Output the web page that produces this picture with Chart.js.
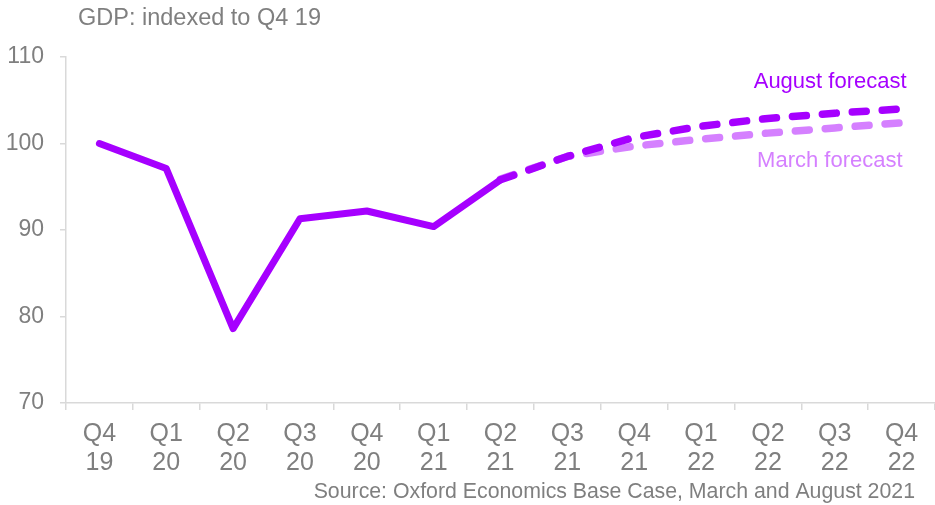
<!DOCTYPE html>
<html>
<head>
<meta charset="utf-8">
<script src="https://cdn.jsdelivr.net/npm/chart.js@4.4.1/dist/chart.umd.min.js"></script>
<style>
    html, body { margin: 0; padding: 0; background: #fff; }
    #wrap { position: relative; width: 935px; height: 505px; }
</style>
</head>
<body>
<div id="wrap"><canvas id="gdpChart"></canvas></div>
<script>
// GDP index, Q4 2019 = 100
const quarters = [
    ['Q4', '19'], ['Q1', '20'], ['Q2', '20'], ['Q3', '20'], ['Q4', '20'],
    ['Q1', '21'], ['Q2', '21'], ['Q3', '21'], ['Q4', '21'],
    ['Q1', '22'], ['Q2', '22'], ['Q3', '22'], ['Q4', '22']
];
const actual = [100.0, 97.1, 78.6, 91.3, 92.2, 90.4, 95.8, null, null, null, null, null, null];
const augustForecast = [null, null, null, null, null, null, 95.8, 98.5, 100.7, 102.0, 102.9, 103.5, 104.0];
const marchForecast = [null, null, null, null, null, null, 95.9, 98.5, 99.7, 100.5, 101.2, 101.8, 102.4];
const yTicks = [70, 80, 90, 100, 110];

const PURPLE = '#a600ff';
const LIGHT_PURPLE = '#d580ff';
const GREY = '#7f7f7f';
const AXIS_GREY = '#d9d9d9';
const FONT = '"Liberation Sans", Arial, sans-serif';

// title, source and series labels drawn on the canvas
const textPlugin = {
    id: 'texts',
    afterDraw(chart) {
        const ctx = chart.ctx;
        const x = chart.scales.x, y = chart.scales.y;
        const last = quarters.length - 1;
        ctx.save();
        ctx.font = '23.5px ' + FONT;
        ctx.fillStyle = GREY;
        ctx.textBaseline = 'middle';
        ctx.textAlign = 'left';
        ctx.fillText('GDP: indexed to Q4 19', 78, 19);

        ctx.font = '21.3px ' + FONT;
        ctx.textAlign = 'right';
        ctx.fillText('Source: Oxford Economics Base Case, March and August 2021', 915, 492);

        ctx.font = '22px ' + FONT;
        ctx.fillStyle = PURPLE;
        ctx.fillText('August forecast', x.getPixelForValue(last) + 5, y.getPixelForValue(augustForecast[last]) - 27);
        ctx.fillStyle = LIGHT_PURPLE;
        ctx.fillText('March forecast', x.getPixelForValue(last) + 1, y.getPixelForValue(marchForecast[last]) + 38);
        ctx.restore();
    }
};

const dashed = {
    borderWidth: 7.5,
    borderDash: [14, 16],
    borderCapStyle: 'round',
    borderJoinStyle: 'round',
    pointRadius: 0,
    tension: 0
};

new Chart(document.getElementById('gdpChart').getContext('2d'), {
    type: 'line',
    data: {
        labels: quarters,
        datasets: [
            {
                label: 'Actual',
                data: actual,
                borderColor: PURPLE,
                borderWidth: 7,
                borderCapStyle: 'round',
                borderJoinStyle: 'round',
                pointRadius: 0,
                tension: 0
            },
            Object.assign({ label: 'August forecast', data: augustForecast, borderColor: PURPLE }, dashed),
            Object.assign({ label: 'March forecast', data: marchForecast, borderColor: LIGHT_PURPLE }, dashed)
        ]
    },
    options: {
        responsive: true,
        maintainAspectRatio: false,
        animation: false,
        layout: { padding: { top: 57, right: 0, bottom: 27, left: 0 } },
        plugins: {
            legend: { display: false },
            tooltip: { enabled: false },
            title: { display: false }
        },
        scales: {
            x: {
                offset: true,
                grid: {
                    offset: true,
                    drawOnChartArea: false,
                    tickLength: 7,
                    color: AXIS_GREY,
                    lineWidth: 1.5
                },
                border: { color: AXIS_GREY, width: 1.5 },
                ticks: {
                    color: GREY,
                    font: { family: FONT, size: 25, lineHeight: 1.17 },
                    padding: 9,
                    maxRotation: 0,
                    autoSkip: false
                },
                afterFit(scale) { scale.height = 75; }
            },
            y: {
                min: 70,
                max: 110,
                afterBuildTicks(scale) { scale.ticks = yTicks.map(v => ({ value: v })); },
                grid: {
                    drawOnChartArea: false,
                    tickLength: 6,
                    color: AXIS_GREY,
                    lineWidth: 1.5
                },
                border: { color: AXIS_GREY, width: 1.5 },
                ticks: {
                    color: GREY,
                    font: { family: FONT, size: 23 },
                    padding: 16
                },
                afterFit(scale) { scale.width = 66; }
            }
        }
    },
    plugins: [textPlugin]
});
</script>
</body>
</html>
